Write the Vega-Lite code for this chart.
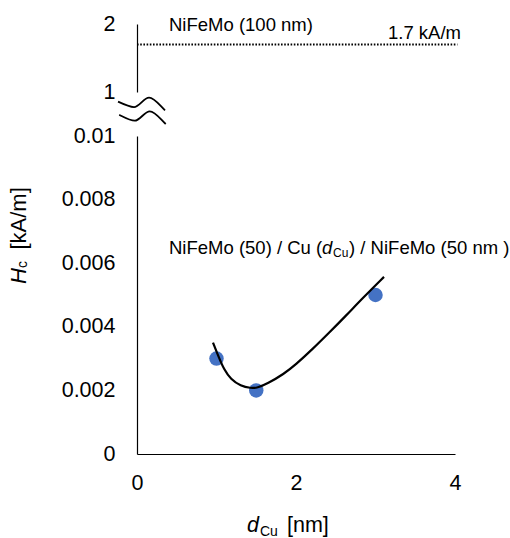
{
  "$schema": "https://vega.github.io/schema/vega-lite/v6.json",
  "padding": {"left": 7, "top": 13, "right": 0, "bottom": 0},
  "autosize": {"type": "pad"},
  "background": "white",
  "config": {
    "font": "Liberation Sans",
    "view": {"stroke": null},
    "axis": {"labelColor": "black", "domainColor": "black", "domainWidth": 1.2, "ticks": false, "grid": false, "labelFlush": false, "labelFont": "Liberation Sans", "labelFontSize": 21.5, "labelFontWeight": "normal"},
    "text": {"color": "black", "font": "Liberation Sans"}
  },
  "datasets": {
    "measured": [
      {"d": 1.0, "h": 0.003},
      {"d": 1.5, "h": 0.002},
      {"d": 3.0, "h": 0.005}
    ],
    "trend": [
      {"d": 0.956, "h": 0.0035},
      {"d": 1.031, "h": 0.00303},
      {"d": 1.094, "h": 0.00266},
      {"d": 1.179, "h": 0.00235},
      {"d": 1.304, "h": 0.00214},
      {"d": 1.43, "h": 0.00207},
      {"d": 1.513, "h": 0.00208},
      {"d": 1.639, "h": 0.00221},
      {"d": 1.849, "h": 0.00252},
      {"d": 1.996, "h": 0.00281},
      {"d": 2.205, "h": 0.00329},
      {"d": 2.415, "h": 0.00381},
      {"d": 2.625, "h": 0.00434},
      {"d": 2.834, "h": 0.00489},
      {"d": 3.107, "h": 0.00557}
    ],
    "bulk": [
      {"d0": 0, "d1": 4.03, "h": 1.7}
    ]
  },
  "bounds": "flush",
  "spacing": 44,
  "vconcat": [
    {
      "width": 318,
      "height": 68,
      "layer": [
        {
          "data": {"name": "bulk"},
          "mark": {"type": "rule", "color": "black", "strokeWidth": 2, "strokeDash": [1.6, 1.6]},
          "encoding": {
            "x": {"field": "d0", "type": "quantitative", "scale": {"domain": [0, 4]}, "axis": null},
            "x2": {"field": "d1"},
            "y": {"field": "h", "type": "quantitative", "scale": {"domain": [1, 2]},
                  "axis": {"values": [1, 2], "format": "~g", "title": null, "labelPadding": 22}}
          }
        },
        {
          "data": {"name": "bulk"},
          "mark": {"type": "text", "align": "left", "baseline": "alphabetic", "fontSize": 18.5, "text": "NiFeMo (100 nm)"},
          "encoding": {
            "x": {"datum": 0.4025, "type": "quantitative"},
            "y": {"datum": 1.897, "type": "quantitative"}
          }
        },
        {
          "data": {"name": "bulk"},
          "mark": {"type": "text", "align": "right", "baseline": "alphabetic", "fontSize": 18.5},
          "encoding": {
            "text": {"value": "1.7 kA/m"},
            "x": {"datum": 4.075, "type": "quantitative"},
            "y": {"datum": 1.779, "type": "quantitative"}
          }
        }
      ]
    },
    {
      "width": 318,
      "height": 318,
      "layer": [
        {
          "data": {"name": "measured"},
          "mark": {"type": "point", "filled": true, "opacity": 1, "color": "#4472C4", "size": 210},
          "encoding": {
            "x": {"field": "d", "type": "quantitative", "scale": {"domain": [0, 4]},
                  "axis": {"values": [0, 2, 4], "format": "~g", "title": null, "labelPadding": 18}},
            "y": {"field": "h", "type": "quantitative", "scale": {"domain": [0, 0.01]},
                  "axis": {"values": [0, 0.002, 0.004, 0.006, 0.008, 0.01], "format": ".3~f", "title": null, "labelPadding": 22}}
          }
        },
        {
          "data": {"name": "trend"},
          "mark": {"type": "line", "color": "black", "strokeWidth": 2.2, "interpolate": "basis"},
          "encoding": {
            "x": {"field": "d", "type": "quantitative"},
            "y": {"field": "h", "type": "quantitative"}
          }
        },
        {
          "data": {"name": "bulk"},
          "mark": {"type": "text", "align": "left", "baseline": "alphabetic", "fontSize": 18.5, "text": "NiFeMo (50) / Cu ("},
          "encoding": {"x": {"datum": 0.4025, "type": "quantitative"}, "y": {"datum": 0.00628, "type": "quantitative"}}
        },
        {
          "data": {"name": "bulk"},
          "mark": {"type": "text", "align": "left", "baseline": "alphabetic", "fontSize": 18.5, "fontStyle": "italic", "text": "d"},
          "encoding": {"x": {"datum": 2.327, "type": "quantitative"}, "y": {"datum": 0.00628, "type": "quantitative"}}
        },
        {
          "data": {"name": "bulk"},
          "mark": {"type": "text", "align": "left", "baseline": "alphabetic", "fontSize": 12, "text": "Cu"},
          "encoding": {"x": {"datum": 2.465, "type": "quantitative"}, "y": {"datum": 0.00618, "type": "quantitative"}}
        },
        {
          "data": {"name": "bulk"},
          "mark": {"type": "text", "align": "left", "baseline": "alphabetic", "fontSize": 18.5, "text": ") / NiFeMo (50 nm )"},
          "encoding": {"x": {"datum": 2.667, "type": "quantitative"}, "y": {"datum": 0.00628, "type": "quantitative"}}
        },
        {
          "data": {"name": "bulk"},
          "mark": {"type": "text", "align": "left", "baseline": "alphabetic", "angle": 270, "fontSize": 22, "fontStyle": "italic", "text": "H"},
          "encoding": {"x": {"datum": -1.4, "type": "quantitative"}, "y": {"datum": 0.005346, "type": "quantitative"}}
        },
        {
          "data": {"name": "bulk"},
          "mark": {"type": "text", "align": "left", "baseline": "alphabetic", "angle": 270, "fontSize": 14, "text": "c"},
          "encoding": {"x": {"datum": -1.382, "type": "quantitative"}, "y": {"datum": 0.00585, "type": "quantitative"}}
        },
        {
          "data": {"name": "bulk"},
          "mark": {"type": "text", "align": "left", "baseline": "alphabetic", "angle": 270, "fontSize": 22, "text": "[kA/m]"},
          "encoding": {"x": {"datum": -1.4, "type": "quantitative"}, "y": {"datum": 0.00643, "type": "quantitative"}}
        },
        {
          "data": {"name": "bulk"},
          "mark": {"type": "text", "align": "left", "baseline": "alphabetic", "fontSize": 21.5, "fontStyle": "italic", "text": "d"},
          "encoding": {"x": {"datum": 1.384, "type": "quantitative"}, "y": {"datum": -0.002453, "type": "quantitative"}}
        },
        {
          "data": {"name": "bulk"},
          "mark": {"type": "text", "align": "left", "baseline": "alphabetic", "fontSize": 14, "text": "Cu"},
          "encoding": {"x": {"datum": 1.547, "type": "quantitative"}, "y": {"datum": -0.002579, "type": "quantitative"}}
        },
        {
          "data": {"name": "bulk"},
          "mark": {"type": "text", "align": "left", "baseline": "alphabetic", "fontSize": 21.5, "text": "[nm]"},
          "encoding": {"x": {"datum": 1.887, "type": "quantitative"}, "y": {"datum": -0.002453, "type": "quantitative"}}
        },
        {
          "data": {"name": "bulk"},
          "mark": {"type": "point", "filled": false, "fill": null, "stroke": "black", "strokeWidth": 1.8, "opacity": 1, "size": 2209,
                   "shape": "M -1,-0.44 C -0.7,-0.3 -0.5,-0.21 -0.32,-0.21 C -0.1,-0.21 0.1,-0.61 0.32,-0.61 C 0.55,-0.61 0.8,-0.25 1,-0.07 M -0.95,0.12 C -0.67,0.26 -0.47,0.37 -0.29,0.37 C -0.07,0.37 0.13,-0.03 0.35,-0.03 C 0.58,-0.03 0.83,0.33 1.03,0.51"},
          "encoding": {"x": {"datum": 0.057, "type": "quantitative"}, "y": {"datum": 0.010755, "type": "quantitative"}}
        }
      ]
    }
  ]
}
